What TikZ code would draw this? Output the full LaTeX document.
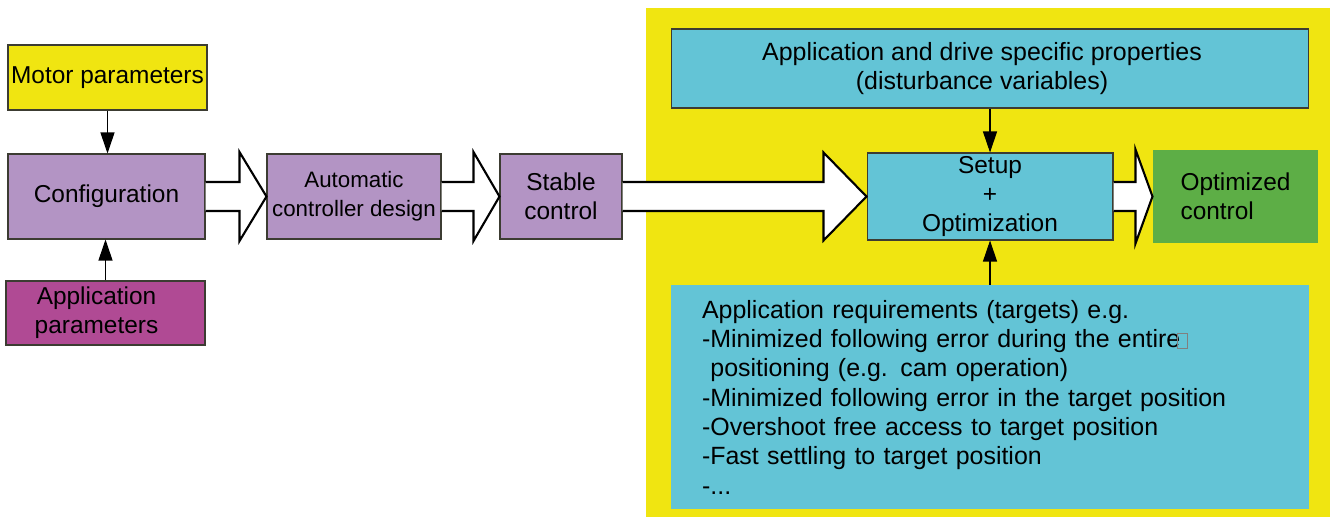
\documentclass[tikz,border=0pt]{standalone}
\usepackage{fontspec}
\setmainfont{Liberation Sans}
\usetikzlibrary{arrows.meta,calc}
\definecolor{ylw}{RGB}{240,229,17}
\definecolor{lpurple}{RGB}{179,148,196}
\definecolor{mgnt}{RGB}{176,74,148}
\definecolor{cyanbox}{RGB}{99,196,214}
\definecolor{grn}{RGB}{93,174,70}
\definecolor{edgec}{RGB}{60,60,50}
\newcommand\blockarr[4]{%
 \draw[blk] ($(#1.east)+(0,-14.5)$) -- ($(#2.west)+(-#3,-14.5)$) -- ($(#2.west)+(-#3,-#4)$) -- (#2.west) -- ($(#2.west)+(-#3,#4)$) -- ($(#2.west)+(-#3,14.5)$) -- ($(#1.east)+(0,14.5)$);}
\tikzset{
  box/.style={rectangle, draw=edgec, line width=0.6pt, inner sep=0pt, align=center,
    font=\fontsize{13.9}{16.5}\selectfont},
  blk/.style={draw=black, line width=1.2pt, fill=white, line join=miter},
  thin/.style={draw=black, line width=0.6pt, -{Triangle[length=0.42cm,width=0.28cm]}},
}
\begin{document}
\begin{tikzpicture}[x=0.02cm,y=-0.02cm]
\useasboundingbox (0,0) rectangle (1337,517);
% yellow background region
\fill[ylw] (646,8) rectangle (1330,517);
% left column
\node[box, fill=ylw, minimum width=3.98cm, minimum height=1.30cm] (motor) at (107.5,77.5) {Motor parameters};
\node[box, fill=lpurple, minimum width=3.94cm, minimum height=1.70cm] (conf) at (106.5,196.5) {Configuration};
\node[box, fill=mgnt, minimum width=3.98cm, minimum height=1.28cm] (app) at (105.5,313) {Application\hspace*{0.36cm}\\parameters\hspace*{0.36cm}};
\node[box, fill=lpurple, minimum width=3.48cm, minimum height=1.70cm, font=\fontsize{12.7}{16.5}\selectfont] (auto) at (354,196.5) {Automatic\\controller design};
\node[box, fill=lpurple, minimum width=2.44cm, minimum height=1.70cm] (stable) at (561,196.5) {Stable\\control};
% right part
\node[box, fill=cyanbox, minimum width=12.76cm, minimum height=1.58cm, font=\fontsize{14.2}{16.5}\selectfont] (props) at (990,68.5) {Application and drive specific properties\hspace*{0.32cm}\\(disturbance variables)\hspace*{0.32cm}};
\node[box, fill=cyanbox, minimum width=4.92cm, minimum height=1.74cm] (setup) at (990,196.5) {Setup\\+\\Optimization};
\node[box, draw=none, fill=grn, minimum width=3.30cm, minimum height=1.86cm, align=left] (opt) at (1235.5,196.5) {Optimized\\control};
\node[rectangle, fill=cyanbox, inner ysep=0pt, inner xsep=0.62cm, text width=11.52cm, minimum height=4.48cm, align=left,
  font=\fontsize{14.2}{16.7}\selectfont] (req) at (990,397) {Application requirements (targets) e.g.\\
-Minimized following error during the entire\\
\ positioning (e.g. cam operation)\\
-Minimized following error in the target position\\
-Overshoot free access to target position\\
-Fast settling to target position\\
-...};
\draw[gray, line width=0.4pt] (1177,333) rectangle (1187,348);
% thin arrows
\draw[thin] (motor.south) -- (motor.south |- conf.north);
\draw[thin] (app.north) -- (app.north |- conf.south);
\draw[thin] (props.south) -- (setup.north);
\draw[thin] (req.north) -- (setup.south);
% block arrows
\blockarr{conf}{auto}{27}{44.5}
\blockarr{auto}{stable}{26}{44.5}
\blockarr{stable}{setup}{43}{44}
\blockarr{setup}{opt}{17}{47}
\end{tikzpicture}
\end{document}
